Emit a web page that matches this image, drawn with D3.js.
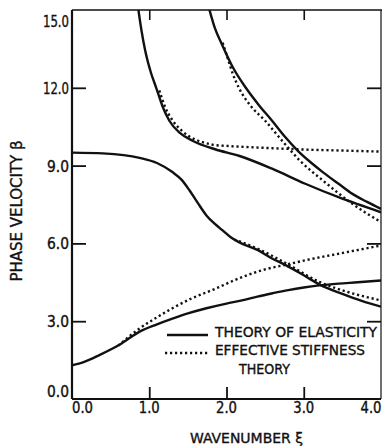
<!DOCTYPE html>
<html>
<head>
<meta charset="utf-8">
<script src="https://cdn.jsdelivr.net/npm/d3@7"></script>
<style>
  html, body { margin: 0; padding: 0; background: #fff; }
  svg { display: block; }
  text { font-family: "Liberation Sans Narrow", "DejaVu Sans Condensed", "DejaVu Sans", sans-serif; fill: #111; stroke: #111; stroke-width: 0.35px; }
</style>
</head>
<body>
<svg id="chart" width="382" height="446"></svg>
<script>
// Dispersion curves: phase velocity beta vs. wavenumber xi
// Theory of elasticity (solid), effective stiffness theory (dotted)

const xTicks = [0, 1, 2, 3, 4];
const xTickLabels = ["0.0", "1.0", "2.0", "3.0", "4.0"];
const yTicks = [0, 3, 6, 9, 12, 15];
const yTickLabels = ["0.0", "3.0", "6.0", "9.0", "12.0", "15.0"];

// Theory of elasticity branches
const elas1Xi   = [0, 0.15, 0.36, 0.62, 0.875, 1.1, 1.3, 1.5, 1.74, 2.0, 2.2, 2.4, 2.6, 2.8, 3.0, 3.2, 3.45, 3.7, 4.0];
const elas1Beta = [1.3, 1.42, 1.7, 2.1, 2.6, 2.88, 3.1, 3.3, 3.5, 3.68, 3.8, 3.95, 4.08, 4.2, 4.3, 4.38, 4.45, 4.5, 4.57];

const elas2Xi   = [0, 0.4, 0.875, 1.1, 1.3, 1.42, 1.52, 1.63, 1.74, 1.85, 1.95, 2.05, 2.16, 2.4, 2.59, 2.76, 3.0, 3.2, 3.5, 3.75, 4.0];
const elas2Beta = [9.5, 9.47, 9.3, 9.1, 8.75, 8.45, 8.05, 7.55, 7.08, 6.75, 6.5, 6.25, 6.05, 5.75, 5.42, 5.17, 4.77, 4.42, 4.05, 3.78, 3.56];

const elas3Xi   = [0.86, 0.9, 0.95, 1.02, 1.09, 1.17, 1.26, 1.4, 1.56, 1.85, 2.16, 2.59, 3.02, 3.45, 4.0];
const elas3Beta = [15, 14.2, 13.4, 12.6, 12.0, 11.3, 10.73, 10.25, 9.96, 9.63, 9.38, 8.88, 8.3, 7.78, 7.2];

const elas4Xi   = [1.78, 1.85, 1.94, 2.08, 2.25, 2.42, 2.59, 2.76, 2.93, 3.1, 3.25, 3.45, 3.63, 3.82, 4.0];
const elas4Beta = [15, 14.3, 13.68, 12.8, 12.0, 11.33, 10.73, 10.1, 9.55, 9.1, 8.74, 8.3, 7.91, 7.6, 7.33];

// Effective stiffness theory branches
const eff1Xi   = [0.6, 0.875, 1.1, 1.3, 1.55, 1.83, 2.16, 2.5, 2.76, 3.02, 3.45, 4.0];
const eff1Beta = [2.06, 2.72, 3.15, 3.5, 3.88, 4.22, 4.65, 5.0, 5.17, 5.35, 5.6, 5.92];

const eff2Xi   = [2.1, 2.4, 2.76, 3.2, 3.6, 4.0];
const eff2Beta = [6.15, 5.8, 5.25, 4.52, 4.1, 3.8];

const eff3Xi   = [1.13, 1.2, 1.3, 1.42, 1.52, 1.61, 1.72, 1.83, 2.0, 2.17, 2.6, 3.0, 3.5, 4.0];
const eff3Beta = [11.9, 11.3, 10.75, 10.35, 10.12, 9.99, 9.88, 9.8, 9.76, 9.73, 9.67, 9.62, 9.58, 9.54];

const eff4Xi   = [1.95, 2.02, 2.08, 2.16, 2.3, 2.5, 2.72, 2.95, 3.25, 3.6, 4.0];
const eff4Beta = [13.74, 13.1, 12.55, 12.0, 11.35, 10.73, 9.96, 9.19, 8.42, 7.59, 6.82];

const legendLabels = ["THEORY OF ELASTICITY", "EFFECTIVE STIFFNESS", "THEORY"];

const svg = d3.select("#chart");
const plotLeft = 72, plotRight = 381, plotTop = 10, plotBottom = 399;

const x = d3.scaleLinear().domain([0, 4]).range([plotLeft, plotRight]);
const y = d3.scaleLinear().domain([0, 15]).range([plotBottom, plotTop]);

const zip = (xs, ys) => xs.map((v, i) => [v, ys[i]]);
const line = d3.line().x(d => x(d[0])).y(d => y(d[1])).curve(d3.curveMonotoneX);

svg.append("clipPath").attr("id", "plotClip")
  .append("rect").attr("x", plotLeft).attr("y", plotTop)
  .attr("width", plotRight - plotLeft).attr("height", plotBottom - plotTop);

const plot = svg.append("g").attr("clip-path", "url(#plotClip)");

const solid = [zip(elas1Xi, elas1Beta), zip(elas2Xi, elas2Beta), zip(elas3Xi, elas3Beta), zip(elas4Xi, elas4Beta)];
const dotted = [zip(eff1Xi, eff1Beta), zip(eff2Xi, eff2Beta), zip(eff3Xi, eff3Beta), zip(eff4Xi, eff4Beta)];

plot.selectAll("path.eff").data(dotted).join("path")
  .attr("class", "eff")
  .attr("d", line)
  .attr("fill", "none")
  .attr("stroke", "#111")
  .attr("stroke-width", 2.4)
  .attr("stroke-dasharray", "2.2,2.8");

plot.selectAll("path.elas").data(solid).join("path")
  .attr("class", "elas")
  .attr("d", line)
  .attr("fill", "none")
  .attr("stroke", "#111")
  .attr("stroke-width", 2.4);

// Frame
const frame = svg.append("g").attr("stroke", "#111").attr("fill", "none");
frame.append("line").attr("x1", x(0)).attr("x2", x(0)).attr("y1", y(15)).attr("y2", y(0)).attr("stroke-width", 2.2);
frame.append("line").attr("x1", x(0)).attr("x2", x(4)).attr("y1", y(0)).attr("y2", y(0)).attr("stroke-width", 2.2);
frame.append("line").attr("x1", x(0)).attr("x2", x(4) + 2).attr("y1", y(15)).attr("y2", y(15)).attr("stroke-width", 1.6);
frame.append("line").attr("x1", x(4)).attr("x2", x(4)).attr("y1", y(15)).attr("y2", y(0)).attr("stroke-width", 1.2);

// Inward ticks via d3 axes
const inner = yTicks.filter(v => v > 0 && v < 15);
const innerX = xTicks.filter(v => v > 0 && v < 4);

svg.append("g").attr("transform", `translate(${x(0)},0)`)
  .call(d3.axisRight(y).tickValues(inner).tickSize(14).tickFormat(""))
  .call(g => g.select(".domain").remove())
  .call(g => g.selectAll("line").attr("stroke", "#111").attr("stroke-width", 1.8));

svg.append("g").attr("transform", `translate(${x(4)},0)`)
  .call(d3.axisLeft(y).tickValues(inner).tickSize(14).tickFormat(""))
  .call(g => g.select(".domain").remove())
  .call(g => g.selectAll("line").attr("stroke", "#111").attr("stroke-width", 1.8));

svg.append("g").attr("transform", `translate(0,${y(0)})`)
  .call(d3.axisTop(x).tickValues(innerX).tickSize(12).tickFormat(""))
  .call(g => g.select(".domain").remove())
  .call(g => g.selectAll("line").attr("stroke", "#111").attr("stroke-width", 1.8));

svg.append("g").attr("transform", `translate(0,${y(15)})`)
  .call(d3.axisBottom(x).tickValues(innerX).tickSize(10).tickFormat(""))
  .call(g => g.select(".domain").remove())
  .call(g => g.selectAll("line").attr("stroke", "#111").attr("stroke-width", 1.6));

// Y tick labels
svg.append("g").selectAll("text").data(yTicks).join("text")
  .attr("x", 69)
  .attr("y", (d) => d === 15 ? y(d) + 16.5 : d === 0 ? y(d) - 2.3 : y(d) + 6)
  .attr("text-anchor", "end")
  .attr("font-size", 15)
  .attr("textLength", (d, i) => yTickLabels[i].length === 4 ? 26 : 22)
  .attr("lengthAdjust", "spacingAndGlyphs")
  .text((d, i) => yTickLabels[i]);

// X tick labels (first sits just right of the axis, last is pulled in at the edge)
svg.append("g").selectAll("text").data(xTicks).join("text")
  .attr("x", d => d === 0 ? x(d) + 10.5 : d === 4 ? x(d) - 10 : x(d))
  .attr("y", 412.5)
  .attr("text-anchor", "middle")
  .attr("font-size", 15)
  .attr("textLength", 21)
  .attr("lengthAdjust", "spacingAndGlyphs")
  .text((d, i) => xTickLabels[i]);

// Axis titles
svg.append("text")
  .attr("transform", "translate(21.5,211) rotate(-90)")
  .attr("text-anchor", "middle")
  .attr("font-size", 15)
  .attr("textLength", 141)
  .attr("lengthAdjust", "spacingAndGlyphs")
  .text("PHASE VELOCITY \u03B2");

svg.append("text")
  .attr("x", 246.5)
  .attr("y", 443)
  .attr("text-anchor", "middle")
  .attr("font-size", 14.5)
  .attr("textLength", 113)
  .attr("lengthAdjust", "spacingAndGlyphs")
  .text("WAVENUMBER \u03BE");

// Legend
const legend = svg.append("g");
legend.append("line").attr("x1", 167).attr("x2", 208).attr("y1", 335).attr("y2", 335)
  .attr("stroke", "#111").attr("stroke-width", 2.4);
legend.append("line").attr("x1", 165).attr("x2", 209).attr("y1", 353).attr("y2", 353)
  .attr("stroke", "#111").attr("stroke-width", 2.4).attr("stroke-dasharray", "2.2,2.8");

const legendPos = [[215, 337, 162], [215, 355, 150], [239, 374, 51]];
legend.selectAll("text").data(legendLabels).join("text")
  .attr("x", (d, i) => legendPos[i][0])
  .attr("y", (d, i) => legendPos[i][1])
  .attr("font-size", 14.5)
  .attr("textLength", (d, i) => legendPos[i][2])
  .attr("lengthAdjust", "spacingAndGlyphs")
  .text(d => d);
</script>
</body>
</html>
